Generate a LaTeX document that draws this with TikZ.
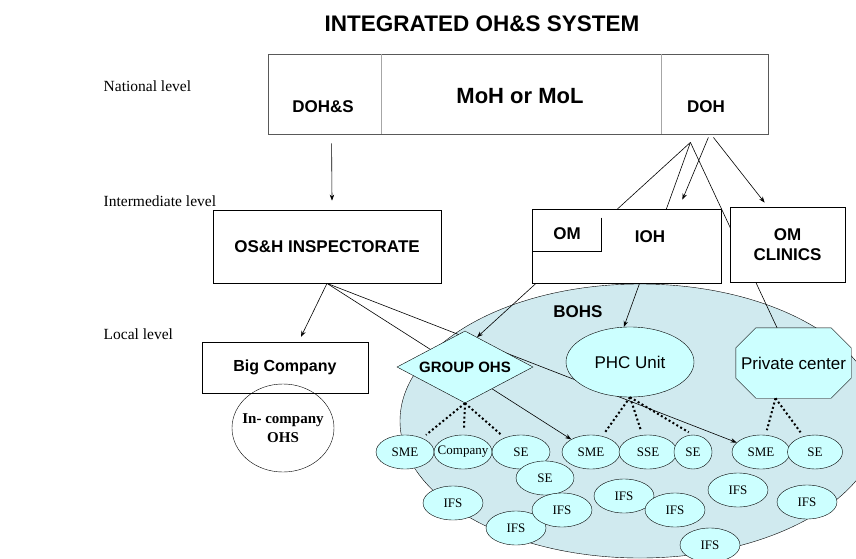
\documentclass[tikz,border=0pt]{standalone}
\usepackage{fontspec}
\setmainfont{Liberation Serif}
\setsansfont{Liberation Sans}
\usetikzlibrary{shapes.geometric,arrows.meta,calc}
\definecolor{cyanfill}{RGB}{204,255,255}
\definecolor{bohsfill}{RGB}{208,234,239}
\pgfdeclarelayer{back}
\pgfdeclarelayer{mid}
\pgfdeclarelayer{shp}
\pgfsetlayers{back,mid,shp,main}

\begin{document}
\begin{tikzpicture}[x=1pt, y=-1pt, line width=0.8pt,
    lvl/.style={anchor=base west, font=\fontsize{15.5}{18}\selectfont},
    hd/.style={font=\sffamily\bfseries\fontsize{17}{20}\selectfont},
    box/.style={draw, fill=white, inner sep=0pt},
    unit/.style={draw, ellipse, fill=cyanfill, minimum width=58, minimum height=34, inner sep=0pt, inner xsep=-10pt, font=\fontsize{13}{15}\selectfont},
    arr/.style={-{Stealth[length=6pt,width=4.5pt]}, line width=0.6pt},
    link/.style={line width=0.6pt},
    dots/.style={line width=2pt, dash pattern=on 2pt off 2.5pt, shorten >=5pt}]
\useasboundingbox (0,0) rectangle (856,559);

\node[anchor=base, font=\sffamily\bfseries\fontsize{22.5}{26}\selectfont] (title) at (482,32) {INTEGRATED OH\&S SYSTEM};
\node[lvl] (natlvl) at (100,92) {National level};
\node[lvl] (intlvl) at (100,206) {Intermediate level};
\node[lvl] (loclvl) at (100,339) {Local level};

\node[box, draw=black!65, minimum width=500, minimum height=80] (natl) at (518,94) {};
\draw[black!35, line width=0.6pt] ($(natl.north west)+(114,0)$) -- ($(natl.south west)+(114,0)$);
\draw[black!35, line width=0.6pt] ($(natl.north west)+(394,0)$) -- ($(natl.south west)+(394,0)$);
\node[hd, anchor=base] (dohs) at (323,113) {DOH\&S};
\node[hd, anchor=base, font=\sffamily\bfseries\fontsize{22}{26}\selectfont] (moh) at (520,104) {MoH or MoL};
\node[hd, anchor=base] (doh) at (706,113) {DOH};

\node[box, hd, minimum width=228, minimum height=73] (osh) at (327,246.5) {OS\&H INSPECTORATE};
\node[box, minimum width=189, minimum height=74] (iohb) at (626.5,246) {};
\draw ($(iohb.north west)+(70,9)$) |- ($(iohb.north west)+(0,43)$);
\node[hd] (om) at (567,234) {OM};
\node[hd] (ioh) at (650,237) {IOH};
\node[box, hd, align=center, minimum width=115, minimum height=75] (omc) at (787.5,244.5) {OM\\CLINICS};

\begin{pgfonlayer}{back}
\node[draw, ellipse, fill=bohsfill, minimum width=480, minimum height=274, inner sep=0pt] (bohs) at (640,421) {};
\end{pgfonlayer}
\node[hd] (bohslbl) at (578,312) {BOHS};

\node[box, font=\sffamily\bfseries\fontsize{16}{19}\selectfont, minimum width=166, minimum height=51] (big) at (285,367.5) {Big Company};
\node[draw, ellipse, minimum width=102, minimum height=88, inner sep=0pt, inner xsep=-10pt, align=center, font=\bfseries\fontsize{15}{19}\selectfont] (inc) at (283,428) {In- company\\OHS};

\node[draw, diamond, aspect=2, fill=cyanfill, minimum width=136, minimum height=72, inner sep=0pt, font=\sffamily\bfseries\fontsize{15}{18}\selectfont] (grp) at (465,367) {GROUP OHS};
\node[draw, ellipse, fill=cyanfill, minimum width=128, minimum height=70, inner sep=0pt, font=\sffamily\fontsize{17}{20}\selectfont] (phc) at (630,362) {PHC Unit};
\node[minimum width=115, minimum height=70, inner sep=0pt, font=\sffamily\fontsize{17}{20}\selectfont] (prv) at (793.5,363) {Private center};
\begin{pgfonlayer}{shp}
\filldraw[fill=cyanfill] ($(prv.north west)+(20,0)$) -- ($(prv.north east)+(-20,0)$) -- ($(prv.north east)+(0,20)$) -- ($(prv.south east)+(0,-20)$) -- ($(prv.south east)+(-20,0)$) -- ($(prv.south west)+(20,0)$) -- ($(prv.south west)+(0,-20)$) -- ($(prv.north west)+(0,20)$) -- cycle;
\end{pgfonlayer}

\node[unit] (sme1) at (405,452) {SME};
\node[unit] (comp) at (463,452) {Company};
\node[unit] (se1) at (521,452) {SE};
\node[unit] (se2) at (545,478) {SE};
\node[unit] (sme2) at (591,452) {SME};
\node[unit] (sse) at (648,452) {SSE};
\node[unit, minimum width=38] (se3) at (693,452) {SE};
\node[unit] (sme3) at (761,452) {SME};
\node[unit, minimum width=55] (se4) at (815,452) {SE};
\node[unit, minimum width=60] (ifs1) at (453,503) {IFS};
\node[unit, minimum width=60] (ifs3) at (516,528) {IFS};
\node[unit, minimum width=60] (ifs2) at (562,510) {IFS};
\node[unit, minimum width=60] (ifs4) at (624,496) {IFS};
\node[unit, minimum width=60] (ifs5) at (675,510) {IFS};
\node[unit, minimum width=60] (ifs6) at (710,545) {IFS};
\node[unit, minimum width=60] (ifs7) at (738,490) {IFS};
\node[unit, minimum width=60] (ifs8) at (807,502) {IFS};

\draw[dots] (grp.south) -- (sme1);
\draw[dots] (grp.south) -- (comp);
\draw[dots] (grp.south) -- (se1);
\draw[dots] (phc.south) -- (sme2);
\draw[dots] (phc.south) -- (sse);
\draw[dots] (phc.south) -- (se3.north);
\draw[dots] ($(prv.south)+(-18,0)$) -- (sme3);
\draw[dots] ($(prv.south)+(-18,0)$) -- (se4);

\begin{pgfonlayer}{mid}
\coordinate (apex) at ($(natl.south east)+(-78,8)$);
\draw[arr] ($(natl.south west)+(64,9)$) -- ($(osh.north)+(5,-9)$);
\draw[arr] (apex) -- (grp.68);
\draw[arr] (apex) -- (phc.100);
\draw[link] (apex) -- (prv);
\draw[arr] ($(natl.south east)+(-60,3)$) -- ($(iohb.north east)+(-39,-9)$);
\draw[arr] ($(natl.south east)+(-55,3)$) -- ($(omc.north west)+(35,-4)$);
\draw[arr] (osh.south) -- ($(big.north)+(16,-5)$);
\draw[arr] (osh.south) -- (sme2);
\draw[arr] (osh.south) -- (sme3);
\end{pgfonlayer}
\end{tikzpicture}
\end{document}
